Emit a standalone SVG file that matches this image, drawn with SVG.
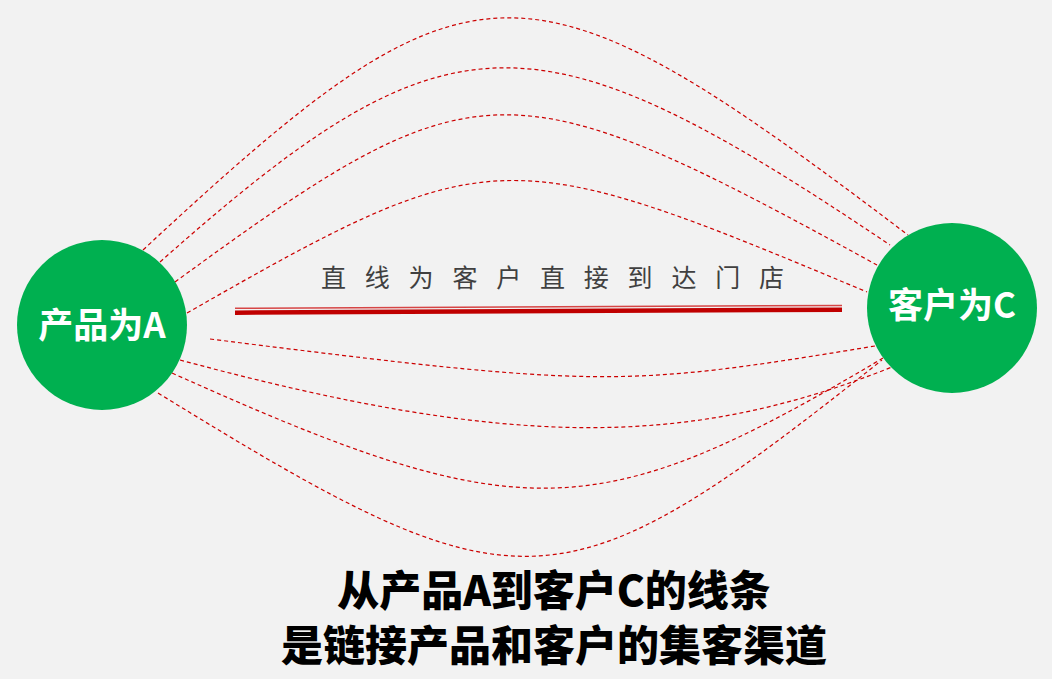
<svg xmlns="http://www.w3.org/2000/svg" width="1052" height="679" viewBox="0 0 1052 679">
  <style>
    .curve { fill: none; stroke: #cc0000; stroke-width: 1.2; stroke-dasharray: 4 3; }
    .node { fill: #00b050; }
    .nodeLabel { font-family: "Noto Sans CJK SC", "Liberation Sans", sans-serif; font-weight: bold; font-size: 35px; fill: #ffffff; text-anchor: middle; }
    .caption { font-family: "Noto Sans CJK SC", "Liberation Sans", sans-serif; font-size: 25px; fill: #404040; letter-spacing: 18.8px; }
    .title { font-family: "Noto Sans CJK SC", "Liberation Sans", sans-serif; font-weight: 900; font-size: 42px; fill: #000000; text-anchor: middle; }
  </style>
  <rect x="0" y="0" width="1052" height="679" fill="#f2f2f2"/>
  <g id="connectors">
    <path class="curve" d="M143,250 C473,-57 523,-57 908,235"/>
    <path class="curve" d="M160,262 C448,6 535,6 890,245"/>
    <path class="curve" d="M175,282 C476,62 507,62 877,265"/>
    <path class="curve" d="M187,313 C490,140 505,140 867,292"/>
    <path class="curve" d="M210,339 C600,388 620,388 875,346"/>
    <path class="curve" d="M180,360 C510,449 687,449 892,367"/>
    <path class="curve" d="M172,373 C519,529 596,529 883,358"/>
    <path class="curve" d="M158,393 C520,616 560,616 882,360"/>
  </g>
  <g id="direct-line">
    <line x1="235" y1="308.3" x2="842" y2="305.5" stroke="#d64545" stroke-width="1.5"/>
    <line x1="235" y1="312.7" x2="842" y2="309.7" stroke="#c00000" stroke-width="4.5"/>
    <text class="caption" x="321" y="287">直线为客户直接到达门店</text>
  </g>
  <g id="node-a">
    <circle class="node" cx="102" cy="325" r="85"/>
    <text class="nodeLabel" x="102" y="338">产品为A</text>
  </g>
  <g id="node-c">
    <circle class="node" cx="952" cy="308" r="85"/>
    <text class="nodeLabel" x="952" y="318">客户为C</text>
  </g>
  <g id="title">
    <text class="title" x="554" y="606">从产品A到客户C的线条</text>
    <text class="title" x="554" y="661">是链接产品和客户的集客渠道</text>
  </g>
</svg>
